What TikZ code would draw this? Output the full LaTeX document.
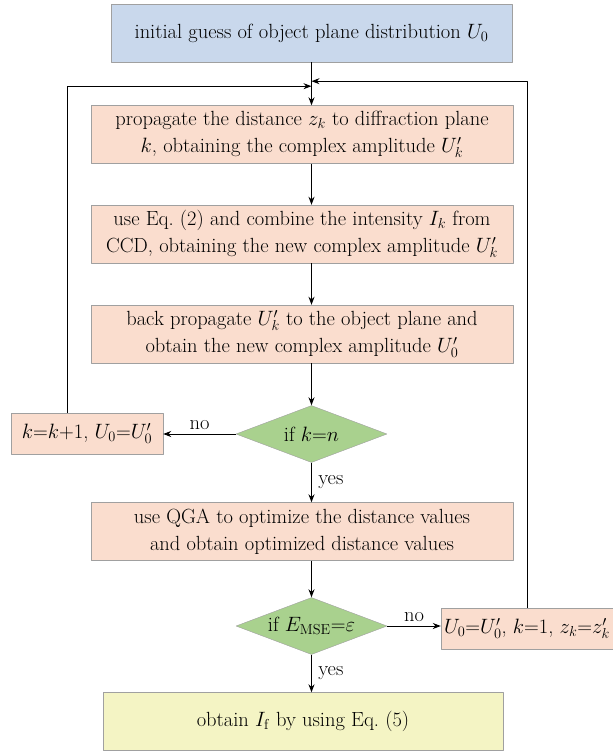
\documentclass[tikz,border=0pt]{standalone}
\usetikzlibrary{shapes.geometric,arrows.meta}
\definecolor{pinkbox}{RGB}{250,221,206}
\definecolor{bluebox}{RGB}{201,216,236}
\definecolor{greendec}{RGB}{169,209,142}
\definecolor{yellowbox}{RGB}{244,244,196}
\definecolor{edgegray}{RGB}{160,160,160}
\begin{document}
\begin{tikzpicture}[x=1pt, y=-1pt, line join=round, >={Stealth[length=8pt,width=6pt]},
	txt/.style={font=\fontsize{20.5}{27}\selectfont},
	box/.style={txt, draw=edgegray, fill=pinkbox, minimum height=58pt, inner sep=0pt, align=center},
	dec/.style={txt, diamond, aspect=2.65, draw=edgegray, fill=greendec, minimum width=151pt, minimum height=57pt, inner sep=0pt},
	link/.style={->, line width=0.9pt}]
	\useasboundingbox (0,0) rectangle (613,753);
	\node[box, fill=bluebox, minimum width=401pt] (init) at (311.5,33) {initial guess of object plane distribution $U_0$};
	\node[box, minimum width=422pt] (prop) at (302,134.5) {propagate the distance $z_k$ to diffraction plane\\$k$, obtaining the complex amplitude $U_k'$};
	\node[box, minimum width=422pt] (comb) at (302,234) {use Eq.~(2) and combine the intensity $I_k$ from\\CCD, obtaining the new complex amplitude $U_k'$};
	\node[box, minimum width=422pt] (back) at (302,334) {back propagate $U_k'$ to the object plane and\\obtain the new complex amplitude $U_0'$};
	\node[dec] (ifk) at (311.5,434) {if $k$=$n$};
	\node[box, minimum width=152pt, minimum height=41pt] (incr) at (87,433.5) {$k$=$k$+1, $U_0$=$U_0'$};
	\node[box, minimum width=422pt] (qga) at (302,531.5) {use QGA to optimize the distance values\\and obtain optimized distance values};
	\node[dec] (ifm) at (311.5,626) {if $E_{\mathrm{MSE}}$=$\varepsilon$};
	\node[box, minimum width=172pt, minimum height=41pt] (reset) at (527,628.5) {$U_0$=$U_0'$, $k$=1, $z_k$=$z_k'$};
	\node[box, fill=yellowbox, minimum width=400pt] (out) at (303,721.5) {obtain $I_{\mathrm f}$ by using Eq.~(5)};
	% feedback joins
	\path (init.south) ++(0,19) coordinate (jr) ++(0,5) coordinate (jl);
	\draw[link] (init.south) -- (init.south |- prop.north);
	\draw[link] (init.south |- prop.south) -- (init.south |- comb.north);
	\draw[link] (init.south |- comb.south) -- (init.south |- back.north);
	\draw[link] (init.south |- back.south) -- (ifk.north);
	\draw[link] (ifk.west) -- (ifk.west -| incr.east) node[txt, midway, above=1pt]{no};
	\draw[link] (ifk.south) -- (ifk.south |- qga.north) node[txt, midway, right=3pt]{yes};
	\draw[link] (ifk.south |- qga.south) -- (ifm.north);
	\draw[link] (ifm.east) -- (ifm.east -| reset.west) node[txt, midway, above=1pt]{no};
	\draw[link] (ifm.south) -- (ifm.south |- out.north) node[txt, midway, right=3pt]{yes};
	\draw[link] ([xshift=-20pt]incr.north) |- (jl);
	\draw[link] (reset.north) |- (jr);
\end{tikzpicture}
\end{document}
